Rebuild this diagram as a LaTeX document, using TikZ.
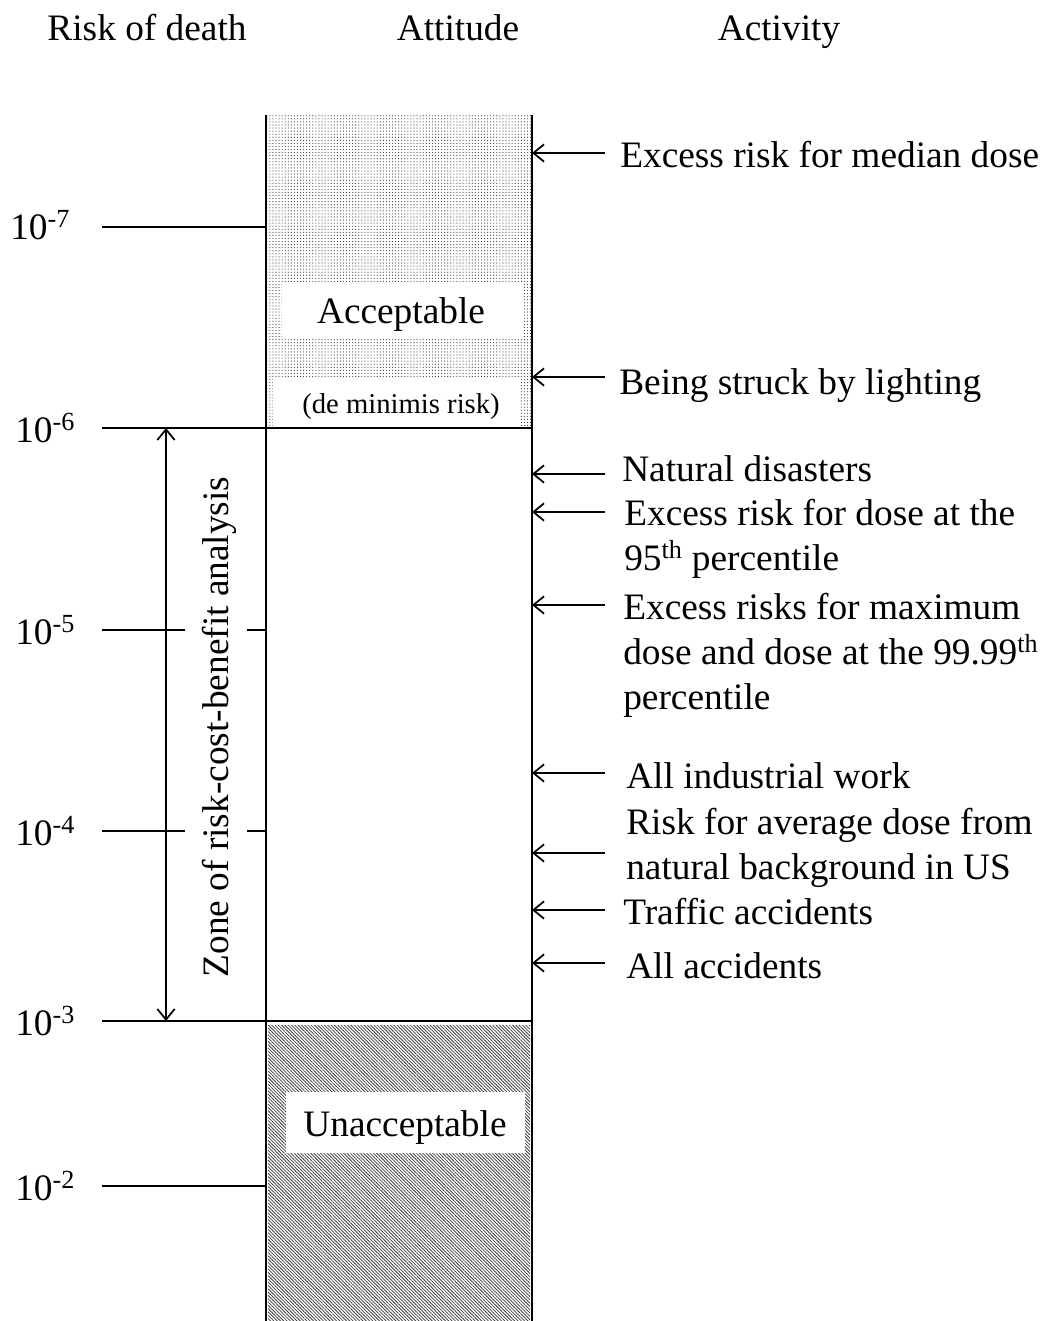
\documentclass[tikz,border=0pt]{standalone}
\usepackage{fontspec}
\setmainfont{Liberation Serif}
\usetikzlibrary{arrows.meta,patterns.meta}

\tikzset{
  rule/.style={line width=1.4pt},
  txt/.style={font=\fontsize{28}{33.75}\selectfont, inner sep=0pt},
  head/.style={txt, anchor=base},
  level/.style={txt, anchor=west},
  activity/.style={txt, anchor=west, align=left},
  pointer/.style={line width=1.3pt, -{Straight Barb[length=8pt,width=13pt,line width=1.3pt]}},
  span/.style={line width=1.3pt, {Straight Barb[length=8pt,width=13pt,line width=1.3pt]}-{Straight Barb[length=8pt,width=13pt,line width=1.3pt]}}
}

\begin{document}
\begin{tikzpicture}[x=0.75pt,y=-0.75pt]
\useasboundingbox (0,0) rectangle (1048,1321);

% column headings
\node[head] (hrisk) at (147,40) {Risk of death};
\node[head] (hatt)  at (458,40) {Attitude};
\node[head] (hact)  at (779,40) {Activity};

% shaded bands of the attitude column
\fill[pattern={Dots[distance=2.3pt,radius=0.45pt]}, pattern color=black!75] (267,115) rectangle (531,427);
\fill[pattern={Lines[angle=-45,distance=1.75pt,line width=0.6pt]}, pattern color=black!75] (268,1025) rectangle (530,1321);

% labels inside the column
\fill[white] (282,283) rectangle (522,338);
\node[txt] (acc) at (401,315) {Acceptable};
\fill[white] (273,378) rectangle (520,427);
\node[txt, font=\fontsize{21.5}{26}\selectfont] (demin) at (401,407) {(de minimis risk)};
\fill[white] (286,1092) rectangle (525,1153);
\node[txt] (unacc) at (405,1128) {Unacceptable};

% column edges
\draw[rule] (266,115) -- (266,1321);
\draw[rule] (532,115) -- (532,1321);

% risk levels
\node[level] (l7) at (10,225) {10\textsuperscript{-7}};
\node[level] (l6) at (15,428) {10\textsuperscript{-6}};
\node[level] (l5) at (15,630) {10\textsuperscript{-5}};
\node[level] (l4) at (15,831) {10\textsuperscript{-4}};
\node[level] (l3) at (15,1021) {10\textsuperscript{-3}};
\node[level] (l2) at (15,1186) {10\textsuperscript{-2}};

\draw[rule] (102,227) -- (266,227);
\draw[rule] (102,428) -- (532,428);
\draw[rule] (102,630) -- (185,630) (247,630) -- (266,630);
\draw[rule] (102,831) -- (185,831) (247,831) -- (266,831);
\draw[rule] (102,1021) -- (532,1021);
\draw[rule] (102,1186) -- (266,1186);

% zone of risk-cost-benefit analysis
\coordinate (ztop) at (166,428);
\coordinate (zbot) at (166,1021);
\draw[span] (ztop) -- (zbot);
\node[txt, rotate=90] (zone) at (219,727) {Zone of risk-cost-benefit analysis};

% activities with pointers to the scale
\node[activity] (a1) at (620,155) {Excess risk for median dose};
\node[activity] (a2) at (619,386) {Being struck by lighting};
\node[activity] (a3) at (622,469) {Natural disasters};
\node[activity, anchor=north west] (a4) at (624,499) {Excess risk for dose at the\\95\textsuperscript{th} percentile};
\node[activity, anchor=north west] (a5) at (623,593) {Excess risks for maximum\\dose and dose at the 99.99\textsuperscript{th}\\percentile};
\node[activity] (a6) at (626,776) {All industrial work};
\node[activity, anchor=north west] (a7) at (626,808) {Risk for average dose from\\natural background in US};
\node[activity] (a8) at (623,912) {Traffic accidents};
\node[activity] (a9) at (626,966) {All accidents};

\foreach \i/\y in {1/153,2/377,3/474,4/512,5/605,6/773,7/853,8/910,9/963}{
  \coordinate (t\i) at (605,\y);
  \coordinate (p\i) at (532,\y);
  \draw[pointer] (t\i) -- (p\i);
}
\end{tikzpicture}
\end{document}
